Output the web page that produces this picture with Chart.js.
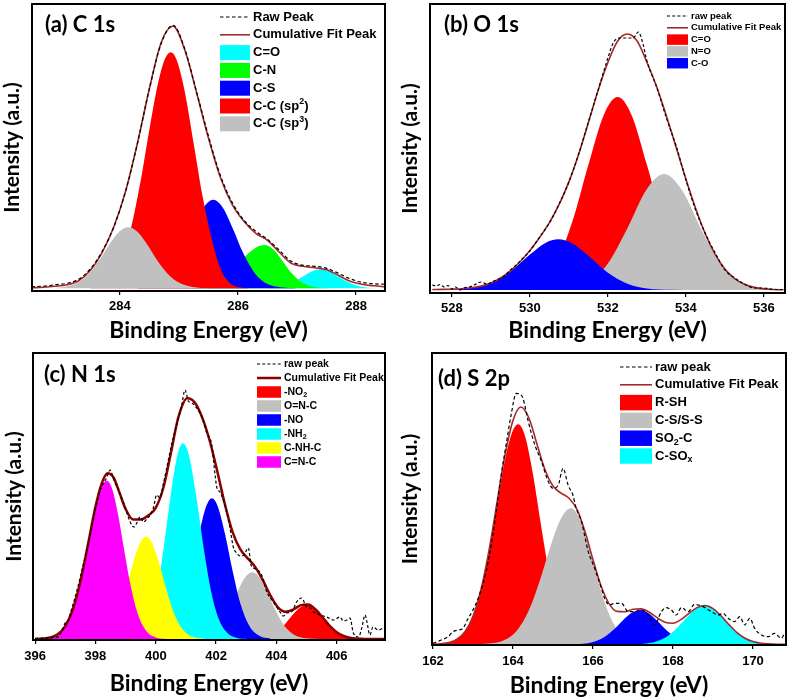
<!DOCTYPE html>
<html>
<head>
  <title>XPS spectra - C 1s, O 1s, N 1s, S 2p</title>
  <meta charset="utf-8">
  <script src="https://cdn.jsdelivr.net/npm/chart.js"></script>
  <style>
    body { margin: 0; background: #fff; }
    #wrap { position: relative; width: 789px; height: 700px; }
    #wrap canvas { position: absolute; }
  </style>
</head>
<body>
<div id="wrap">
  <canvas id="chartA" width="395" height="345" style="left:0;top:0"></canvas>
  <canvas id="chartB" width="394" height="345" style="left:395px;top:0"></canvas>
  <canvas id="chartC" width="395" height="355" style="left:0;top:345px"></canvas>
  <canvas id="chartD" width="394" height="355" style="left:395px;top:345px"></canvas>
</div>
<script>
// ---- (a) C 1s ----
var c1sGrid = [282.5, 282.7, 282.9, 283.1, 283.3, 283.5, 283.7, 283.9, 284.1, 284.3, 284.5, 284.7, 284.9, 285.1, 285.3, 285.5, 285.7, 285.9, 286.1, 286.3, 286.5, 286.7, 286.9, 287.1, 287.3, 287.5, 287.7, 287.9, 288.1, 288.3, 288.5];
var c1sFit = [0.5, 1, 2, 3.5, 7.5, 18, 36, 62, 98, 146, 200, 246, 262, 238, 195, 150, 111, 84, 67, 55, 48, 36, 25, 22, 20.5, 18.5, 13, 7, 4, 2.5, 1.5];
var c1sRaw = [1.5, 2.2, 3.5, 5, 9, 19.5, 37, 62, 98, 146, 200, 245, 263, 239, 196, 152, 113, 86, 68, 57, 49, 38, 27, 23, 22, 20, 15, 9.5, 6, 4.5, 4];
var c1sLabels = ['C=O', 'C-N', 'C-S', 'C-C (sp^{2})', 'C-C (sp^{3})'];
var c1sCOE = [286.5, 286.75, 286.95, 287.1, 287.25, 287.4, 287.55, 287.7, 287.85, 288.05, 288.25, 288.5];
var c1sCOI = [0.3, 2.1, 6.5, 11.8, 16.9, 19, 16.9, 11.8, 6.5, 2.1, 0.4, 0];
var c1sCNE = [285.2, 285.5, 285.75, 285.95, 286.15, 286.3, 286.45, 286.6, 286.75, 286.9, 287.05, 287.25, 287.45, 287.7];
var c1sCNI = [0.5, 3.3, 10.7, 21.2, 33.5, 40.6, 43.3, 38.7, 27.6, 15.7, 7.1, 1.8, 0.3, 0];
var c1sCSE = [284.3, 284.6, 284.85, 285.05, 285.25, 285.42, 285.58, 285.74, 285.9, 286.1, 286.3, 286.5, 286.75, 287.0];
var c1sCSI = [0.3, 2.9, 13.2, 32.4, 60, 80.8, 88.5, 80.8, 61.4, 33.7, 13.9, 4.3, 0.7, 0];
var c1sSp2E = [283.5, 283.7, 283.95, 284.15, 284.35, 284.5, 284.65, 284.76, 284.86, 284.96, 285.1, 285.25, 285.4, 285.55, 285.7, 285.85, 286.0, 286.2];
var c1sSp2I = [0.9, 4, 19.2, 51.2, 107.3, 159.4, 206.5, 229, 236, 228.5, 196, 144.4, 92.1, 50.8, 20, 6, 1.2, 0];
var c1sSp3E = [282.9, 283.0, 283.25, 283.45, 283.65, 283.85, 284.0, 284.14, 284.3, 284.45, 284.65, 284.85, 285.05, 285.3, 285.6];
var c1sSp3I = [0.4, 0.9, 4.7, 13.1, 28.1, 46.5, 57.3, 61, 56.2, 44.7, 26.4, 12, 4.2, 0.8, 0];

// ---- (b) O 1s ----
var o1sGrid = [527.5, 527.75, 528, 528.25, 528.5, 528.75, 529, 529.25, 529.5, 529.75, 530, 530.25, 530.5, 530.75, 531, 531.25, 531.5, 531.75, 532, 532.25, 532.5, 532.75, 533, 533.25, 533.5, 533.75, 534, 534.25, 534.5, 534.75, 535, 535.25, 535.5, 535.75, 536, 536.25, 536.5];
var o1sFit = [0.5, 0.6, 0.8, 1.2, 2.2, 3.9, 7, 12, 19.1, 28.3, 39.4, 52.5, 67.4, 85.6, 108.1, 135.5, 167.3, 199.7, 227.6, 249, 256, 249, 227.8, 203.2, 174.1, 142.5, 111, 81.5, 55.9, 35.6, 21, 11.4, 5.7, 2.6, 1.1, 0.5, 0.2];
var o1sRawE = [527.5, 527.6, 527.7, 527.8, 527.9, 528.0, 528.1, 528.2, 528.3, 528.45, 528.6, 528.75, 528.9, 529.05, 529.2, 529.35, 529.5, 529.65, 529.8, 530.0, 530.25, 530.5, 530.75, 531.0, 531.25, 531.5, 531.75, 532.0, 532.15, 532.3, 532.5, 532.65, 532.78, 532.9, 533.0, 533.25, 533.5, 533.75, 534.0, 534.25, 534.5, 534.75, 535.0, 535.25, 535.5, 535.75, 536.0, 536.25, 536.5];
var o1sRawI = [5, 4, 5.5, 3, 4.5, 1, 3, 0, 2, 3, 5.5, 8, 6, 8.5, 11, 14, 20, 25, 31, 39, 53, 67, 86, 108, 136, 168, 200, 232, 248, 252, 252, 252, 258, 246, 229, 203, 172, 144, 110, 80, 56, 37, 20, 12, 6, 2, 2, 0.5, 0.5];
var o1sLabels = ['C=O', 'N=O', 'C-O'];
var o1sCOE = [529.0, 529.6, 530.2, 530.7, 531.1, 531.5, 531.9, 532.25, 532.6, 533.0, 533.4, 533.8, 534.3, 534.9, 535.5];
var o1sCOI = [0.1, 0.9, 7.6, 30.3, 69.8, 125.2, 175.6, 193, 175.6, 125.2, 69.8, 30.3, 7.6, 0.9, 0.1];
var o1sNOE = [530.5, 531.0, 531.5, 532.0, 532.5, 533.0, 533.44, 533.9, 534.4, 534.9, 535.4, 535.9, 536.5];
var o1sNOI = [0.2, 1.7, 7.9, 26.4, 61.7, 101, 116, 99.7, 60, 25.3, 7.5, 1.5, 0.1];
var o1sCOsE = [527.8, 528.4, 529.0, 529.5, 530.0, 530.4, 530.73, 531.1, 531.5, 532.0, 532.5, 533.0, 533.6, 534.3];
var o1sCOsI = [0.2, 1.4, 6.9, 18.5, 35.5, 47.1, 50.7, 46.3, 34.2, 17.3, 6.3, 1.6, 0.2, 0];

// ---- (c) N 1s ----
var n1sGrid = [396, 396.25, 396.5, 396.75, 397, 397.25, 397.5, 397.75, 398, 398.2, 398.4, 398.6, 398.8, 399, 399.25, 399.5, 399.75, 400, 400.25, 400.5, 400.75, 401.05, 401.3, 401.55, 401.8, 402.05, 402.3, 402.55, 402.8, 403.05, 403.3, 403.55, 403.8, 404.05, 404.3, 404.55, 404.8, 405.05, 405.3, 405.55, 405.8, 406.05, 406.3, 406.6, 406.9, 407.2, 407.6];
var n1sFit = [0.1, 0.4, 1.5, 4.8, 12.9, 29.5, 57.2, 94.2, 132.1, 154.9, 165.8, 161.5, 146.1, 130, 119.5, 119.5, 123.5, 131.2, 151, 185.7, 221.9, 240.8, 236.2, 220.6, 197, 166.4, 133.7, 106.6, 89.8, 80.6, 71.9, 58.8, 43.6, 31.7, 27.3, 29.4, 33.6, 34.4, 29.5, 20.9, 12.1, 5.7, 2.2, 0.5, 0.1, 0, 0];
var n1sRawE = [396.0, 396.4, 396.77, 396.88, 396.99, 397.1, 397.22, 397.4, 397.6, 397.8, 398.0, 398.2, 398.35, 398.49, 398.6, 398.8, 398.98, 399.1, 399.2, 399.28, 399.37, 399.48, 399.6, 399.7, 399.81, 399.92, 400.03, 400.14, 400.25, 400.37, 400.53, 400.7, 400.85, 400.97, 401.08, 401.2, 401.33, 401.47, 401.58, 401.69, 401.85, 401.97, 402.02, 402.13, 402.3, 402.46, 402.57, 402.68, 402.8, 402.92, 403.07, 403.16, 403.24, 403.38, 403.51, 403.68, 403.9, 404.12, 404.23, 404.34, 404.5, 404.67, 404.84, 405.0, 405.12, 405.23, 405.45, 405.67, 405.89, 406.11, 406.22, 406.33, 406.44, 406.55, 406.72, 406.83, 406.94, 407.0, 407.1, 407.2, 407.38, 407.55];
var n1sRawI = [0.5, 1, 2.3, 7.3, 15.7, 19, 31, 50, 75, 100, 131, 152, 160, 169, 160, 146, 132, 121, 114, 112, 116, 122, 117, 120, 124, 131, 144, 141, 155, 172, 195, 215, 232, 249, 238, 236, 232, 226, 218, 206, 195, 163, 152, 147, 133, 111, 92, 86, 83, 84, 91, 74, 71, 69, 64, 47, 37, 27, 23, 26, 27, 37, 41, 32, 31, 27, 24, 22, 19, 22, 18, 19, 21, 6, 2, 11, 24, 17, 4, 12, 9, 11];
var n1sLabels = ['-NO_{2}', 'O=N-C', '-NO', '-NH_{2}', 'C-NH-C', 'C=N-C'];
var n1sNO2E = [403.6, 403.95, 404.25, 404.5, 404.75, 405.0, 405.25, 405.5, 405.75, 406.05, 406.4, 406.8];
var n1sNO2I = [1.4, 5.7, 13.7, 22.7, 30.7, 34, 30.7, 22.7, 13.7, 5.7, 1.4, 0];
var n1sONCE = [401.4, 401.8, 402.2, 402.5, 402.8, 403.0, 403.2, 403.4, 403.65, 403.95, 404.25, 404.6, 405.0, 405.4];
var n1sONCI = [0.7, 4.1, 16, 33.1, 53.1, 63, 66.7, 63, 49.9, 29.9, 13.8, 4.1, 0.7, 0];
var n1sNOE = [400.0, 400.3, 400.65, 400.95, 401.2, 401.45, 401.65, 401.86, 402.05, 402.3, 402.55, 402.8, 403.1, 403.45, 403.8];
var n1sNOI = [0.4, 2.4, 12.3, 35.4, 68.1, 106.3, 130.7, 140.7, 133.1, 104.4, 67.7, 36.1, 13.2, 2.9, 0.4];
var n1sNH2E = [399.1, 399.4, 399.7, 399.95, 400.2, 400.45, 400.7, 400.9, 401.1, 401.35, 401.6, 401.85, 402.1, 402.4, 402.7, 403.0];
var n1sNH2I = [0.4, 2.8, 12.9, 35.6, 77.6, 133.5, 181.5, 195.7, 183.5, 141.2, 88.8, 45.6, 19.2, 5.2, 1.1, 0.2];
var n1sCNHE = [397.8, 398.1, 398.45, 398.75, 399.0, 399.25, 399.5, 399.68, 399.85, 400.1, 400.35, 400.6, 400.9, 401.25, 401.6];
var n1sCNHI = [0.4, 1.9, 9.3, 25.9, 49.1, 76.3, 97.2, 102.3, 97.6, 76.9, 49.6, 26.1, 9.3, 1.9, 0.3];
var n1sCNCE = [396.2, 396.5, 396.85, 397.15, 397.45, 397.75, 398.05, 398.25, 398.38, 398.55, 398.75, 398.95, 399.15, 399.4, 399.7, 400.0, 400.3];
var n1sCNCI = [0.3, 1.5, 7.3, 21.6, 50.7, 93.9, 137.2, 154.8, 158.3, 150.5, 124.5, 89.5, 55.9, 25.5, 7.4, 1.6, 0.2];

// ---- (d) S 2p ----
var s2pGrid = [162.0, 162.2, 162.4, 162.6, 162.8, 163.0, 163.2, 163.4, 163.6, 163.8, 164.0, 164.2, 164.4, 164.6, 164.8, 165.0, 165.2, 165.4, 165.6, 165.8, 166.0, 166.2, 166.4, 166.6, 166.8, 167.0, 167.2, 167.4, 167.6, 167.8, 168.0, 168.2, 168.4, 168.6, 168.8, 169.0, 169.2, 169.4, 169.6, 169.8, 170.0, 170.2, 170.4, 170.6, 170.8];
var s2pFit = [0.2, 0.6, 1.8, 5.1, 12.7, 28.1, 54.9, 93.9, 141.8, 189.1, 223.9, 237.3, 226.1, 200.1, 174.5, 158.3, 151.2, 146.1, 135, 112.7, 84.5, 58.5, 40.7, 32.9, 32.6, 35, 35.4, 32.3, 26.6, 22, 21, 24.7, 31, 36.7, 38.8, 35.7, 28.5, 19.7, 11.7, 6.1, 2.7, 1.04, 0.4, 0.1, 0];
var s2pRawE = [162.0, 162.21, 162.38, 162.5, 162.63, 162.75, 162.88, 163.0, 163.13, 163.3, 163.5, 163.7, 163.85, 163.96, 164.08, 164.18, 164.25, 164.38, 164.54, 164.71, 164.88, 165.0, 165.13, 165.25, 165.38, 165.5, 165.58, 165.71, 165.88, 166.04, 166.21, 166.29, 166.42, 166.54, 166.71, 166.88, 167.04, 167.21, 167.38, 167.54, 167.71, 167.83, 167.96, 168.08, 168.21, 168.38, 168.54, 168.63, 168.75, 168.96, 169.13, 169.25, 169.38, 169.54, 169.67, 169.79, 169.92, 170.04, 170.21, 170.38, 170.54, 170.71, 170.79];
var s2pRawI = [1, 4.3, 7.7, 12.7, 14.3, 16, 26, 34.3, 46, 68, 110, 168, 205, 231, 251, 250, 246, 223, 200, 183, 163, 156, 159, 176, 159, 149, 136, 123, 93, 76, 56, 46, 39.3, 41, 41, 32.7, 32.7, 34.3, 29.3, 19.3, 32.7, 36.7, 34.3, 29.3, 36.7, 32.7, 40, 39.3, 37.7, 32.7, 29.3, 31, 26, 22.7, 27.7, 19.3, 26, 16, 9.3, 7.7, 11, 6, 11];
var s2pLabels = ['R-SH', 'C-S/S-S', 'SO_{2}-C', 'C-SO_{x}'];
var s2pRSHE = [162.0, 162.3, 162.7, 163.0, 163.3, 163.55, 163.8, 164.0, 164.13, 164.3, 164.5, 164.7, 164.9, 165.1, 165.35, 165.6, 165.9, 166.2];
var s2pRSHI = [0.15, 1, 8.2, 28, 72.4, 127.8, 184.6, 214.1, 220, 208.3, 169.9, 119.3, 71.8, 37.3, 13.2, 3.7, 0.6, 0];
var s2pCSE = [163.0, 163.4, 163.8, 164.1, 164.4, 164.7, 164.95, 165.2, 165.45, 165.7, 165.95, 166.2, 166.45, 166.7, 167.0, 167.4, 167.8];
var s2pCSI = [0.1, 0.7, 4.5, 13.9, 34.3, 67.3, 99.5, 125.8, 136, 122.5, 89.6, 53.3, 25.7, 10.1, 2.5, 0.2, 0];
var s2pSO2E = [165.6, 165.9, 166.2, 166.5, 166.75, 166.95, 167.17, 167.4, 167.6, 167.85, 168.15, 168.5, 168.9];
var s2pSO2I = [0.2, 1.4, 5.2, 14, 24.1, 31.1, 34.3, 30.9, 23.7, 13.6, 5, 1, 0.1];
var s2pSOxE = [167.2, 167.5, 167.8, 168.05, 168.3, 168.55, 168.79, 169.0, 169.25, 169.5, 169.8, 170.1, 170.5];
var s2pSOxI = [0.4, 1.9, 6.5, 14.3, 25, 34.8, 38.7, 35.7, 26.3, 15.5, 6.1, 1.7, 0.2];

var RED = '#ff0000', GRAY = '#c0c0c0', BLUE = '#0000ff', GREEN = '#00ff00', CYAN = '#00ffff', MAGENTA = '#ff00ff', YELLOW = '#ffff00';
var LEGEND_FONT = '"Liberation Sans", Arial, sans-serif';

Chart.defaults.font.family = LEGEND_FONT;
Chart.defaults.color = '#000';

function pts(xs, ys) {
  return xs.map(function (x, i) { return { x: x, y: ys[i] }; });
}

// text with _{sub} and ^{sup} parts
function richText(ctx, text, x, y, size) {
  text.split(/([_^]\{[^}]*\})/).forEach(function (t) {
    if (!t) return;
    var s = size, dy = 0;
    if (t[0] === '_' || t[0] === '^') {
      dy = t[0] === '_' ? size * 0.3 : -size * 0.32;
      s = size * 0.68;
      t = t.slice(2, -1);
    }
    ctx.font = 'bold ' + s + 'px ' + LEGEND_FONT;
    ctx.fillText(t, x, y + dy);
    x += ctx.measureText(t).width;
  });
}

// frame, panel label and legend
var decor = {
  id: 'decor',
  afterDraw: function (chart, args, o) {
    var ctx = chart.ctx, a = chart.chartArea;
    ctx.save();
    ctx.lineWidth = 2;
    ctx.strokeStyle = '#000';
    ctx.strokeRect(a.left, a.top, a.right - a.left, a.bottom - a.top);
    ctx.fillStyle = '#000';
    ctx.font = 'bold 22px Lato';
    ctx.textBaseline = 'alphabetic';
    ctx.fillText(o.label, o.labelX, o.labelY);
    ctx.textBaseline = 'middle';
    chart.data.datasets.forEach(function (ds, i) {
      var y = o.legendY + i * o.legendStep;
      if (ds.fill) {
        ctx.fillStyle = ds.backgroundColor;
        ctx.fillRect(o.legendX, y - o.boxH / 2, o.sampleW, o.boxH);
      } else {
        ctx.strokeStyle = ds.borderColor;
        ctx.lineWidth = ds.borderWidth;
        ctx.setLineDash(ds.borderDash || []);
        ctx.beginPath();
        ctx.moveTo(o.legendX, y);
        ctx.lineTo(o.legendX + o.sampleW, y);
        ctx.stroke();
        ctx.setLineDash([]);
      }
      ctx.fillStyle = '#000';
      richText(ctx, ds.label, o.legendX + o.sampleW + 3, y, o.fontSize);
    });
    ctx.restore();
  }
};

function drawPanel(id, p) {
  var datasets = [
    { label: p.rawLabel, data: pts(p.rawE, p.rawI), borderColor: '#000', borderWidth: 1.2, borderDash: p.dash, fill: false, order: 0 },
    { label: 'Cumulative Fit Peak', data: pts(p.fitE, p.fitI), borderColor: p.fitColor, borderWidth: p.fitWidth, fill: false, order: 1 }
  ];
  // later legend entries are painted over earlier ones
  p.peaks.forEach(function (pk, i) {
    datasets.push({
      label: p.labels[i], data: pts(pk[0], pk[1]), backgroundColor: p.colors[i],
      borderColor: 'rgba(0,0,0,0)', borderWidth: 0, fill: 'origin', order: 2 + p.peaks.length - 1 - i
    });
  });
  return new Chart(document.getElementById(id), {
    type: 'line',
    data: { datasets: datasets },
    options: {
      responsive: false,
      animation: false,
      layout: { padding: p.pad },
      elements: { point: { radius: 0 }, line: { cubicInterpolationMode: 'monotone' } },
      plugins: {
        legend: { display: false },
        tooltip: { enabled: false },
        decor: p.decor
      },
      scales: {
        x: {
          type: 'linear', min: p.xMin, max: p.xMax,
          afterFit: function (s) { s.height = p.xH; },
          ticks: { stepSize: 2, includeBounds: false, padding: p.tickPad, font: { size: 13, weight: 'bold' }, color: '#000' },
          grid: { display: true, drawOnChartArea: false, drawTicks: true, tickLength: 4, color: '#000', lineWidth: 1.2 },
          border: { display: false },
          title: { display: true, text: 'Binding Energy (eV)', font: { family: 'Lato', weight: 'bold', size: 23 }, color: '#000', padding: { top: 0, bottom: p.xTitlePad } }
        },
        y: {
          min: p.yMin, max: p.yMax,
          afterFit: function (s) { s.width = p.yW; },
          ticks: { display: false },
          grid: { display: false },
          border: { display: false },
          title: { display: true, text: 'Intensity (a.u.)', font: { family: 'Lato', weight: 'bold', size: 21 }, color: '#000', padding: { top: p.yTitlePad, bottom: 0 } }
        }
      }
    },
    plugins: [decor]
  });
}

drawPanel('chartA', {
  rawLabel: 'Raw Peak', rawE: c1sGrid, rawI: c1sRaw, fitE: c1sGrid, fitI: c1sFit,
  fitColor: '#a52a2a', fitWidth: 1.6, dash: [3.5, 2.5],
  labels: c1sLabels, colors: [CYAN, GREEN, BLUE, RED, GRAY],
  peaks: [[c1sCOE, c1sCOI], [c1sCNE, c1sCNI], [c1sCSE, c1sCSI], [c1sSp2E, c1sSp2I], [c1sSp3E, c1sSp3I]],
  xMin: 282.51, xMax: 288.49, yMin: -2.7, yMax: 284.3,
  pad: { left: 0, top: 4, right: 10, bottom: 0 }, yW: 32, xH: 54, tickPad: 4, xTitlePad: 0.5, yTitlePad: 0,
  decor: { label: '(a) C 1s', labelX: 45, labelY: 32, legendX: 220, legendY: 17, legendStep: 17.8, sampleW: 30, boxH: 15, fontSize: 13 }
});

drawPanel('chartB', {
  rawLabel: 'raw peak', rawE: o1sRawE, rawI: o1sRawI, fitE: o1sGrid, fitI: o1sFit,
  fitColor: '#a52a2a', fitWidth: 1.6, dash: [3, 2.2],
  labels: o1sLabels, colors: [RED, GRAY, BLUE],
  peaks: [[o1sCOE, o1sCOI], [o1sNOE, o1sNOI], [o1sCOsE, o1sCOsI]],
  xMin: 527.44, xMax: 536.54, yMin: -3, yMax: 286,
  pad: { left: 0, top: 4, right: 4, bottom: 0 }, yW: 35, xH: 52, tickPad: 4, xTitlePad: 0.5, yTitlePad: 2.5,
  decor: { label: '(b) O 1s', labelX: 49, labelY: 32, legendX: 272, legendY: 16, legendStep: 11.8, sampleW: 21, boxH: 10.5, fontSize: 9.5 }
});

drawPanel('chartC', {
  rawLabel: 'raw peak', rawE: n1sRawE, rawI: n1sRawI, fitE: n1sGrid, fitI: n1sFit,
  fitColor: '#8b0000', fitWidth: 2.5, dash: [3, 2.2],
  labels: n1sLabels, colors: [RED, GRAY, BLUE, CYAN, YELLOW, MAGENTA],
  peaks: [[n1sNO2E, n1sNO2I], [n1sONCE, n1sONCI], [n1sNOE, n1sNOI], [n1sNH2E, n1sNH2I], [n1sCNHE, n1sCNHI], [n1sCNCE, n1sCNCI]],
  xMin: 395.93, xMax: 407.6, yMin: -1, yMax: 286,
  pad: { left: 0, top: 8, right: 10, bottom: 0 }, yW: 33, xH: 60, tickPad: 5, xTitlePad: 3, yTitlePad: 1.5,
  decor: { label: '(c) N 1s', labelX: 44, labelY: 36.5, legendX: 257, legendY: 19, legendStep: 14, sampleW: 24, boxH: 11.5, fontSize: 10.5 }
});

drawPanel('chartD', {
  rawLabel: 'raw peak', rawE: s2pRawE, rawI: s2pRawI, fitE: s2pGrid, fitI: s2pFit,
  fitColor: '#a52a2a', fitWidth: 1.6, dash: [3.5, 2.5],
  labels: s2pLabels, colors: [RED, GRAY, BLUE, CYAN],
  peaks: [[s2pRSHE, s2pRSHI], [s2pCSE, s2pCSI], [s2pSO2E, s2pSO2I], [s2pSOxE, s2pSOxI]],
  xMin: 161.975, xMax: 170.825, yMin: -0.7, yMax: 291.3,
  pad: { left: 0, top: 8, right: 3, bottom: 0 }, yW: 37, xH: 55, tickPad: 5, xTitlePad: 1, yTitlePad: 3,
  decor: { label: '(d) S 2p', labelX: 43, labelY: 40.5, legendX: 225, legendY: 22, legendStep: 17.8, sampleW: 32, boxH: 15.5, fontSize: 13 }
});
</script>
</body>
</html>
